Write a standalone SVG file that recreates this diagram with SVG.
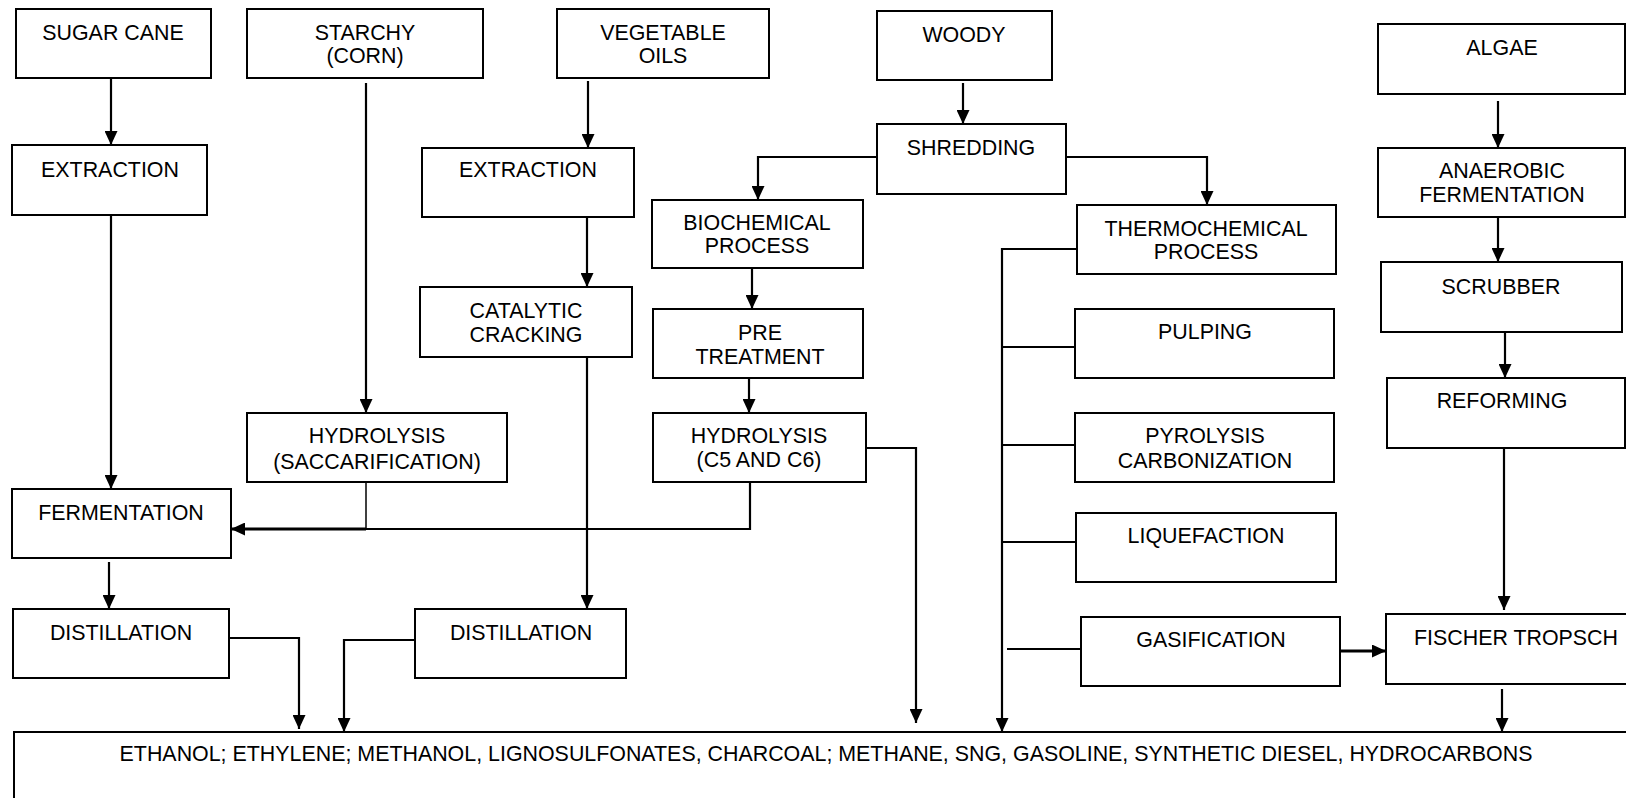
<svg xmlns="http://www.w3.org/2000/svg" width="1626" height="798" viewBox="0 0 1626 798">
<style>
.box{fill:#fff;stroke:#000;stroke-width:2}
text{font-family:"Liberation Sans",Arial,sans-serif;font-size:21.4px;fill:#000;text-anchor:middle}
.c{fill:none;stroke:#000;stroke-width:2.2}
.a{marker-end:url(#ah)}
.thin{stroke-width:1.5}
.thick{stroke-width:3}
</style>
<defs>
<marker id="ah" markerUnits="userSpaceOnUse" markerWidth="15" markerHeight="13" refX="14" refY="6.5" orient="auto">
<path d="M0,0 L14,6.5 L0,13 z" fill="#000"/>
</marker>
</defs>
<rect width="1626" height="798" fill="#fff"/>
<g id="connectors">
<path class="c a" d="M111,78 V145"/>
<path class="c a" d="M111,215 V489"/>
<path class="c a" d="M366,83 V413"/>
<path class="c a" d="M588,81 V148"/>
<path class="c a" d="M587,217 V287"/>
<path class="c a" d="M587,357 V609"/>
<path class="c a" d="M963,83 V124"/>
<path class="c a" d="M877,157 H758 V200"/>
<path class="c a" d="M1066,157 H1207 V205"/>
<path class="c a" d="M752,268 V309"/>
<path class="c a" d="M749,374 V413"/>
<path class="c a" d="M866,448 H916 V723"/>
<path class="c thin" d="M366,482 V529"/>
<path class="c" d="M750,482 V529 H366"/>
<path class="c a thick" d="M366,529 H231"/>
<path class="c a" d="M109,562 V609"/>
<path class="c a" d="M226,638 H299 V729"/>
<path class="c a" d="M415,640 H344 V732"/>
<path class="c a" d="M1077,249 H1002 V732"/>
<path class="c" d="M1002,347 H1075"/>
<path class="c" d="M1002,445 H1075"/>
<path class="c" d="M1002,542 H1076"/>
<path class="c" d="M1007,649 H1081"/>
<path class="c a thick" d="M1340,651 H1386"/>
<path class="c a" d="M1498,101 V148"/>
<path class="c a" d="M1498,217 V262"/>
<path class="c a" d="M1505,332 V378"/>
<path class="c a" d="M1504,448 V610"/>
<path class="c a" d="M1502,689 V732"/>
</g>
<g id="sugar-cane"><rect class="box" x="16" y="9" width="195" height="69"/><text x="113" y="40">SUGAR CANE</text></g>
<g id="starchy"><rect class="box" x="247" y="9" width="236" height="69"/><text x="365" y="40">STARCHY</text><text x="365" y="63">(CORN)</text></g>
<g id="vegetable-oils"><rect class="box" x="557" y="9" width="212" height="69"/><text x="663" y="40">VEGETABLE</text><text x="663" y="63">OILS</text></g>
<g id="woody"><rect class="box" x="877" y="11" width="175" height="69"/><text x="964" y="42">WOODY</text></g>
<g id="algae"><rect class="box" x="1378" y="24" width="247" height="70"/><text x="1502" y="55">ALGAE</text></g>
<g id="extraction-1"><rect class="box" x="12" y="145" width="195" height="70"/><text x="110" y="177">EXTRACTION</text></g>
<g id="extraction-2"><rect class="box" x="422" y="148" width="212" height="69"/><text x="528" y="177">EXTRACTION</text></g>
<g id="shredding"><rect class="box" x="877" y="124" width="189" height="70"/><text x="971" y="155">SHREDDING</text></g>
<g id="biochemical"><rect class="box" x="652" y="200" width="211" height="68"/><text x="757" y="230">BIOCHEMICAL</text><text x="757" y="253">PROCESS</text></g>
<g id="thermochemical"><rect class="box" x="1077" y="205" width="259" height="69"/><text x="1206" y="236">THERMOCHEMICAL</text><text x="1206" y="259">PROCESS</text></g>
<g id="anaerobic"><rect class="box" x="1378" y="148" width="247" height="69"/><text x="1502" y="178">ANAEROBIC</text><text x="1502" y="202">FERMENTATION</text></g>
<g id="scrubber"><rect class="box" x="1381" y="262" width="241" height="70"/><text x="1501" y="294">SCRUBBER</text></g>
<g id="catalytic"><rect class="box" x="420" y="287" width="212" height="70"/><text x="526" y="318">CATALYTIC</text><text x="526" y="342">CRACKING</text></g>
<g id="pretreatment"><rect class="box" x="653" y="309" width="210" height="69"/><text x="760" y="340">PRE</text><text x="760" y="364">TREATMENT</text></g>
<g id="pulping"><rect class="box" x="1075" y="309" width="259" height="69"/><text x="1205" y="339">PULPING</text></g>
<g id="reforming"><rect class="box" x="1387" y="378" width="238" height="70"/><text x="1502" y="408">REFORMING</text></g>
<g id="hydrolysis-sacc"><rect class="box" x="247" y="413" width="260" height="69"/><text x="377" y="443">HYDROLYSIS</text><text x="377" y="469">(SACCARIFICATION)</text></g>
<g id="hydrolysis-c5"><rect class="box" x="653" y="413" width="213" height="69"/><text x="759" y="443">HYDROLYSIS</text><text x="759" y="467">(C5 AND C6)</text></g>
<g id="pyrolysis"><rect class="box" x="1075" y="413" width="259" height="69"/><text x="1205" y="443">PYROLYSIS</text><text x="1205" y="468">CARBONIZATION</text></g>
<g id="fermentation"><rect class="box" x="12" y="489" width="219" height="69"/><text x="121" y="520">FERMENTATION</text></g>
<g id="liquefaction"><rect class="box" x="1076" y="513" width="260" height="69"/><text x="1206" y="543">LIQUEFACTION</text></g>
<g id="distillation-1"><rect class="box" x="13" y="609" width="216" height="69"/><text x="121" y="640">DISTILLATION</text></g>
<g id="distillation-2"><rect class="box" x="415" y="609" width="211" height="69"/><text x="521" y="640">DISTILLATION</text></g>
<g id="gasification"><rect class="box" x="1081" y="617" width="259" height="69"/><text x="1211" y="647">GASIFICATION</text></g>
<g id="fischer-tropsch"><rect class="box" x="1386" y="614" width="260" height="70"/><text x="1516" y="645">FISCHER TROPSCH</text></g>
<g id="products"><rect class="box" x="14" y="732" width="1640" height="100"/><text x="826" y="761">ETHANOL; ETHYLENE; METHANOL, LIGNOSULFONATES, CHARCOAL; METHANE, SNG, GASOLINE, SYNTHETIC DIESEL, HYDROCARBONS</text></g>
</svg>
